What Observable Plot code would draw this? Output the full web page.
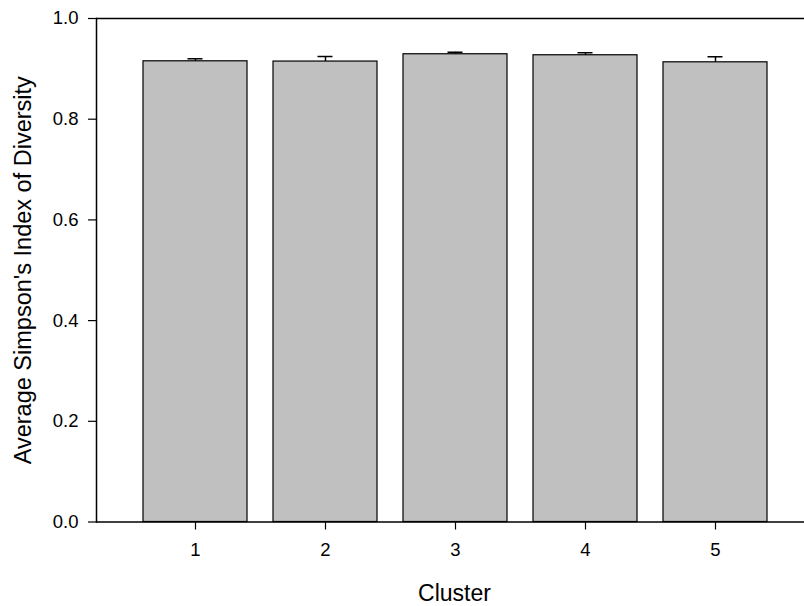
<!DOCTYPE html>
<html>
<head>
<meta charset="utf-8">
<script src="https://cdn.jsdelivr.net/npm/d3@7"></script>
<script src="https://cdn.jsdelivr.net/npm/@observablehq/plot@0.6"></script>
<style>
  html, body { margin: 0; padding: 0; background: #fff; }
  #chart svg { display: block; }
  #chart g[aria-label$="tick label"] { font-size: 18.5px; }
</style>
</head>
<body>
<div id="chart"></div>
<script>
const clusters = [1, 2, 3, 4, 5];
const means = [0.915, 0.9145, 0.929, 0.927, 0.913];
const errors = [0.005, 0.010, 0.004, 0.005, 0.011];
const yTicks = [0, 0.2, 0.4, 0.6, 0.8, 1.0];
const xLabel = "Cluster";
const yLabel = "Average Simpson's Index of Diversity";

const data = clusters.map((c, i) => ({cluster: c, mean: means[i], hi: means[i] + errors[i]}));

const font = "'Liberation Sans', Arial, Helvetica, sans-serif";

const chart = Plot.plot({
  width: 804,
  height: 606,
  marginLeft: 96,
  marginRight: 0,
  marginTop: 18,
  marginBottom: 84.5,
  style: {fontFamily: font, fontSize: "18px", color: "#000", background: "#fff", overflow: "visible"},
  x: {type: "band", domain: clusters, range: [96, 813], paddingInner: 0.2, paddingOuter: 0.35},
  y: {domain: [0, 1]},
  marks: [
    Plot.barY(data, {x: "cluster", y: "mean", fill: "#c0c0c0", stroke: "#000", strokeWidth: 1.2}),
    Plot.ruleX(data, {x: "cluster", y1: "mean", y2: "hi", stroke: "#000", strokeWidth: 1.5}),
    Plot.tickY(data, {x: "cluster", y: "hi", stroke: "#000", strokeWidth: 1.5, insetLeft: 44.5, insetRight: 44.5}),
    Plot.ruleY([0], {stroke: "#000", strokeWidth: 1.5}),
    Plot.ruleY([1], {stroke: "#000", strokeWidth: 1.5}),
    Plot.frame({anchor: "left", stroke: "#000", strokeWidth: 1.5}),
    Plot.axisY({ticks: yTicks, tickFormat: d3.format(".1f"), tickSize: 8, tickPadding: 10, label: null, fontSize: 18.5, stroke: "#000", strokeWidth: 1.2}),
    Plot.axisX({tickSize: 8, tickPadding: 13, label: null, fontSize: 18.5, stroke: "#000", strokeWidth: 1.2}),
    Plot.text([xLabel], {frameAnchor: "bottom", dx: 4, dy: 71.5, lineAnchor: "middle", fontSize: 23, fill: "#000"}),
    Plot.text([yLabel], {frameAnchor: "left", dx: -73.5, rotate: -90, lineAnchor: "middle", textAnchor: "middle", fontSize: 23.5, fill: "#000"})
  ]
});

document.getElementById("chart").appendChild(chart);
</script>
</body>
</html>
